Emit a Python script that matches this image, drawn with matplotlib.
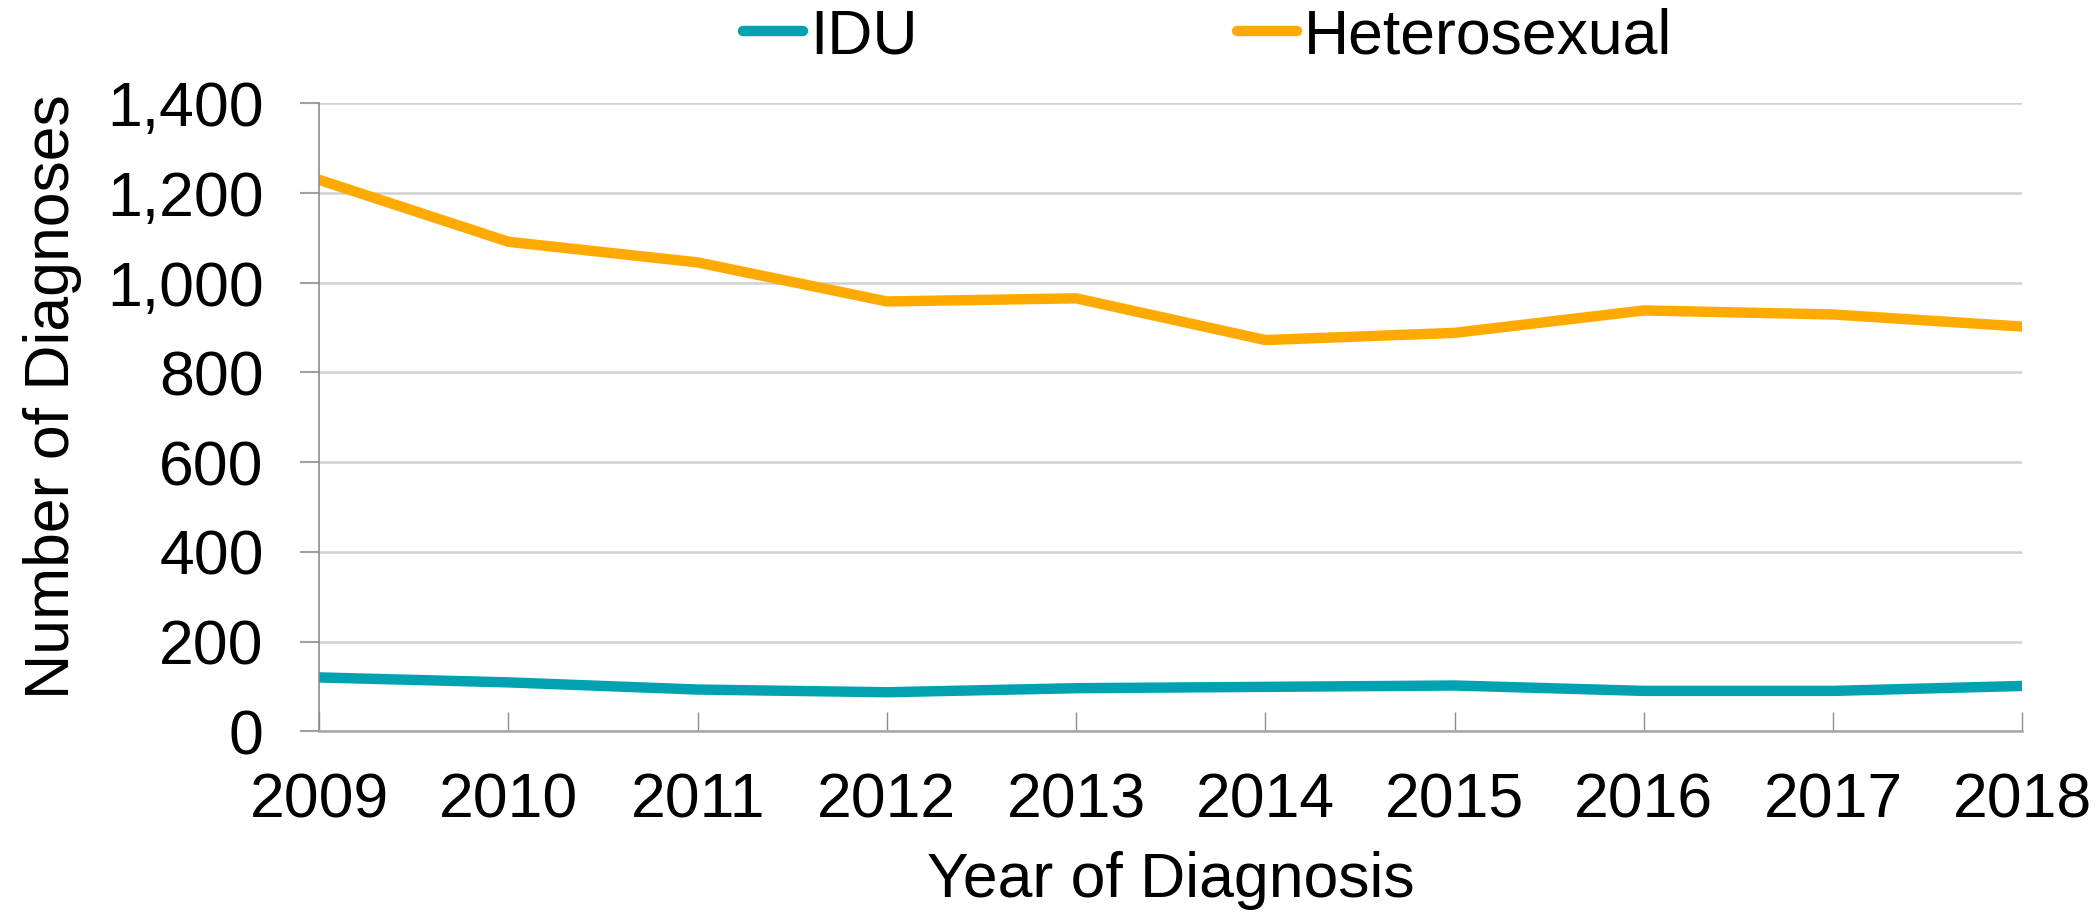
import matplotlib
matplotlib.use('Agg')
import matplotlib.pyplot as plt
import matplotlib.ticker as ticker

plt.rcParams['font.family'] = ['Liberation Sans', 'DejaVu Sans']

years = [2009, 2010, 2011, 2012, 2013, 2014, 2015, 2016, 2017, 2018]
idu = [120, 109, 93, 87, 96, 99, 102, 90, 90, 101]
hetero = [1229, 1091, 1045, 958, 965, 872, 888, 938, 929, 902]

fig = plt.figure(figsize=(21, 9.21), dpi=100)
ax = fig.add_axes([0.152, 0.206, 0.811, 0.682])

ax.plot(years, idu, color='#00A2B1', lw=7.5, label='IDU', solid_capstyle='round')
ax.plot(years, hetero, color='#FFAA00', lw=7.5, label='Heterosexual', solid_capstyle='round')

ax.set_xlim(2009, 2018)
ax.set_ylim(0, 1400)
ax.set_xticks(years)
ax.yaxis.set_major_locator(ticker.MultipleLocator(200))
ax.yaxis.set_major_formatter(ticker.FuncFormatter(lambda v, p: '{:,.0f}'.format(v)))

ax.grid(axis='y', color='#D0D0D0', lw=1.8)
ax.set_axisbelow(True)
for s in ['top', 'right']:
    ax.spines[s].set_visible(False)
ax.spines['left'].set_color('#8C8C8C')
ax.spines['left'].set_linewidth(1.2)
ax.spines['bottom'].set_color('#A6A6A6')
ax.spines['bottom'].set_linewidth(1.8)

ax.tick_params(axis='x', direction='in', length=14, width=1, color='#8C8C8C', labelsize=45, pad=29)
ax.tick_params(axis='y', direction='out', length=14, width=1.5, color='#A0A0A0', labelsize=45, pad=26)

ax.set_xlabel('Year of Diagnosis', fontsize=45)
ax.set_ylabel('Number of Diagnoses', fontsize=45)
ax.xaxis.set_label_coords(0.5, -0.19)
ax.yaxis.set_label_coords(-0.139, 0.533)

fig.legend(loc='center left', bbox_to_anchor=(0.3538, 0.96), ncol=2, frameon=False,
           fontsize=45, handlelength=0.96, handletextpad=0.12, columnspacing=5.1,
           borderpad=0, borderaxespad=0)

plt.savefig('out.png', dpi=100)
